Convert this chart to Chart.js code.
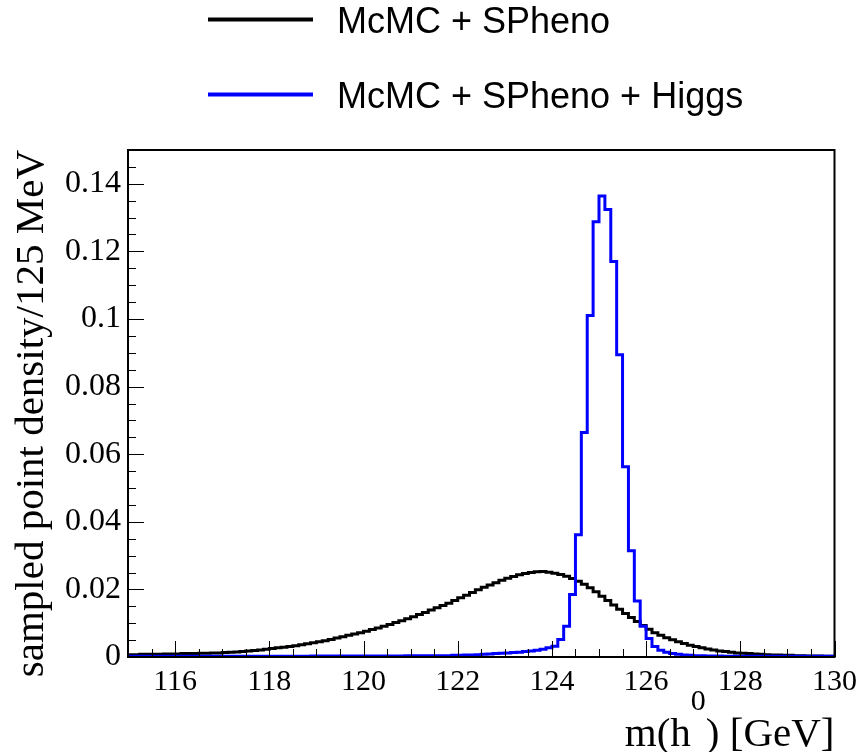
<!DOCTYPE html>
<html>
<head>
<meta charset="utf-8">
<script src="https://cdn.jsdelivr.net/npm/chart.js@4.4.1/dist/chart.umd.min.js"></script>
<style>
  html, body { margin: 0; padding: 0; background: #ffffff; }
  #wrap { width: 864px; height: 752px; position: relative; }
</style>
</head>
<body>
<div id="wrap"><canvas id="c" width="864" height="752"></canvas></div>
<script>
// ---- data ----
const binStart = 115;      // GeV, low edge of first bin
const binWidth = 0.125;    // GeV (125 MeV)
const seriesNames = ["McMC + SPheno", "McMC + SPheno + Higgs"];
const seriesColors = ["#000000", "#0000ff"];

// McMC + SPheno, 120 bins from 115 to 130 GeV
const spheno = [
  0.0007,0.0007,0.0007,0.0008,0.0008,0.0008,0.0008,0.0009,
  0.0009,0.0009,0.0010,0.0010,0.0010,0.0011,0.0011,0.0012,
  0.0012,0.0013,0.0014,0.0015,0.0016,0.0018,0.0019,0.0021,
  0.0023,0.0025,0.0027,0.0029,0.0031,0.0033,0.0036,0.0039,
  0.0042,0.0045,0.0048,0.0052,0.0056,0.0060,0.0064,0.0068,
  0.0072,0.0076,0.0081,0.0086,0.0091,0.0096,0.0102,0.0107,
  0.0113,0.0119,0.0126,0.0132,0.0139,0.0146,0.0152,0.0159,
  0.0167,0.0175,0.0183,0.0191,0.0199,0.0206,0.0213,0.0220,
  0.0227,0.0233,0.0238,0.0243,0.0247,0.0250,0.0252,0.0253,
  0.0251,0.0248,0.0244,0.0239,0.0232,0.0224,0.0215,0.0205,
  0.0193,0.0180,0.0167,0.0154,0.0141,0.0129,0.0117,0.0105,
  0.0093,0.0082,0.0072,0.0064,0.0057,0.0051,0.0045,0.0040,
  0.0035,0.0031,0.0027,0.0024,0.0021,0.0018,0.0016,0.0014,
  0.0012,0.0011,0.0010,0.0009,0.0008,0.0007,0.0006,0.0006,
  0.0005,0.0005,0.0004,0.0004,0.0003,0.0003,0.0003,0.0002
];

// McMC + SPheno + Higgs, 120 bins from 115 to 130 GeV
const higgs = [
  0.0002,0.0002,0.0002,0.0002,0.0002,0.0002,0.0002,0.0002,
  0.0002,0.0002,0.0002,0.0002,0.0002,0.0002,0.0002,0.0002,
  0.0002,0.0002,0.0002,0.0002,0.0002,0.0002,0.0002,0.0002,
  0.0002,0.0002,0.0002,0.0002,0.0002,0.0002,0.0002,0.0002,
  0.0003,0.0003,0.0003,0.0003,0.0003,0.0003,0.0003,0.0003,
  0.0003,0.0003,0.0003,0.0003,0.0003,0.0003,0.0003,0.0003,
  0.0004,0.0004,0.0004,0.0004,0.0004,0.0004,0.0004,0.0004,
  0.0005,0.0005,0.0006,0.0006,0.0007,0.0008,0.0009,0.0010,
  0.0011,0.0012,0.0013,0.0014,0.0016,0.0018,0.0020,0.0023,
  0.0027,0.0032,0.0052,0.0091,0.0185,0.0362,0.0664,0.1010,
  0.1288,0.1364,0.1324,0.1170,0.0894,0.0563,0.0314,0.0166,
  0.0091,0.0055,0.0031,0.0020,0.0014,0.0010,0.0008,0.0006,
  0.0005,0.0004,0.0004,0.0003,0.0003,0.0003,0.0002,0.0002,
  0.0002,0.0002,0.0002,0.0002,0.0002,0.0002,0.0002,0.0002,
  0.0002,0.0002,0.0002,0.0002,0.0002,0.0002,0.0002,0.0002
];

const xMin = 115, xMax = 130;
const yMin = 0, yMax = 0.15;
const xMajorTicks = [116, 118, 120, 122, 124, 126, 128, 130];
const xMinorStep = 0.5;
const yMajorTicks = [0, 0.02, 0.04, 0.06, 0.08, 0.10, 0.12, 0.14];
const yMinorStep = 0.005;
const xTitleMain = "m(h";
const xTitleSup = "0";
const xTitleEnd = ") [GeV]";
const yTitle = "sampled point density/125 MeV";

// ---- build histogram outlines (step lines through bin edges) ----
function histPoints(vals) {
  const pts = vals.map((v, i) => ({ x: binStart + i * binWidth, y: v }));
  pts.push({ x: binStart + vals.length * binWidth, y: vals[vals.length - 1] });
  return pts;
}

const serif = "'Liberation Serif', 'Times New Roman', serif";
const sans = "'Liberation Sans', Arial, Helvetica, sans-serif";

const decoPlugin = {
  id: 'rootDeco',
  afterDraw(chart) {
    const ctx = chart.ctx;
    const a = chart.chartArea;
    const xs = chart.scales.x, ys = chart.scales.y;
    ctx.save();
    // tick marks (inside)
    ctx.strokeStyle = '#000';
    ctx.lineWidth = 1;
    ctx.beginPath();
    for (let v = xMin; v <= xMax + 1e-9; v += xMinorStep) {
      const px = Math.round(xs.getPixelForValue(v)) + 0.5;
      const major = Math.abs(v / 2 - Math.round(v / 2)) < 1e-6;
      const len = major ? 16 : 8;
      ctx.moveTo(px, a.bottom);
      ctx.lineTo(px, a.bottom - len);
    }
    for (let v = yMin; v <= yMax + 1e-9; v += yMinorStep) {
      const py = Math.round(ys.getPixelForValue(v)) + 0.5;
      const major = Math.abs(v / 0.02 - Math.round(v / 0.02)) < 1e-6;
      const len = major ? 16 : 8;
      ctx.moveTo(a.left, py);
      ctx.lineTo(a.left + len, py);
    }
    ctx.stroke();
    // frame
    ctx.lineWidth = 2;
    ctx.strokeRect(a.left, a.top, a.right - a.left, a.bottom - a.top);

    // y title (rotated, right-aligned to top of axis)
    ctx.fillStyle = '#000';
    ctx.save();
    ctx.translate(43, a.top);
    ctx.rotate(-Math.PI / 2);
    ctx.font = '41px ' + serif;
    ctx.textAlign = 'right';
    ctx.textBaseline = 'alphabetic';
    ctx.fillText(yTitle, 0, 0);
    ctx.restore();

    // x title with superscript, right-aligned to plot right
    const base = 746;
    ctx.textBaseline = 'alphabetic';
    ctx.textAlign = 'left';
    ctx.font = '41px ' + serif;
    const w1 = ctx.measureText(xTitleMain).width;
    const w3 = ctx.measureText(xTitleEnd).width;
    ctx.font = '30px ' + serif;
    const w2 = ctx.measureText(xTitleSup).width;
    let x0 = a.right - (w1 + w2 + w3);
    ctx.font = '41px ' + serif;
    ctx.fillText(xTitleMain, x0, base);
    ctx.font = '30px ' + serif;
    ctx.fillText(xTitleSup, x0 + w1, base - 36);
    ctx.font = '41px ' + serif;
    ctx.fillText(xTitleEnd, x0 + w1 + w2, base);

    // legend
    const rows = [33, 108];
    chart.data.datasets.forEach((ds, i) => {
      const ly = rows[i];
      ctx.strokeStyle = ds.borderColor;
      ctx.lineWidth = 4;
      ctx.beginPath();
      const lineY = ly - 13.5;
      ctx.moveTo(208, lineY);
      ctx.lineTo(313, lineY);
      ctx.stroke();
      ctx.fillStyle = '#000';
      ctx.font = '36px ' + sans;
      ctx.textAlign = 'left';
      ctx.textBaseline = 'alphabetic';
      ctx.fillText(ds.label, 337, ly);
    });
    ctx.restore();
  }
};

new Chart(document.getElementById('c'), {
  type: 'line',
  data: {
    datasets: [
      {
        label: seriesNames[0],
        data: histPoints(spheno),
        borderColor: seriesColors[0],
        borderWidth: 3,
        stepped: 'after',
        pointRadius: 0,
        fill: false,
        order: 1
      },
      {
        label: seriesNames[1],
        data: histPoints(higgs),
        borderColor: seriesColors[1],
        borderWidth: 3,
        stepped: 'after',
        pointRadius: 0,
        fill: false,
        order: 0
      }
    ]
  },
  options: {
    responsive: false,
    animation: false,
    layout: { padding: { left: 0, right: 26, top: 150, bottom: 0 } },
    plugins: { legend: { display: false }, tooltip: { enabled: false } },
    scales: {
      x: {
        type: 'linear',
        min: xMin, max: xMax,
        grid: { display: false, drawTicks: false },
        border: { display: false },
        afterBuildTicks: (s) => { s.ticks = xMajorTicks.map(v => ({ value: v })); },
        afterFit: (s) => { s.height = 95; },
        ticks: {
          autoSkip: false, maxRotation: 0, padding: 7,
          color: '#000',
          font: { family: serif, size: 30 },
          callback: (v) => String(v)
        }
      },
      y: {
        type: 'linear',
        min: yMin, max: yMax,
        grid: { display: false, drawTicks: false },
        border: { display: false },
        afterBuildTicks: (s) => { s.ticks = yMajorTicks.map(v => ({ value: v })); },
        afterFit: (s) => { s.width = 128; },
        ticks: {
          autoSkip: false, padding: 7,
          color: '#000',
          font: { family: serif, size: 32 },
          callback: (v) => String(parseFloat(v.toFixed(2)))
        }
      }
    }
  },
  plugins: [decoPlugin]
});
</script>
</body>
</html>
